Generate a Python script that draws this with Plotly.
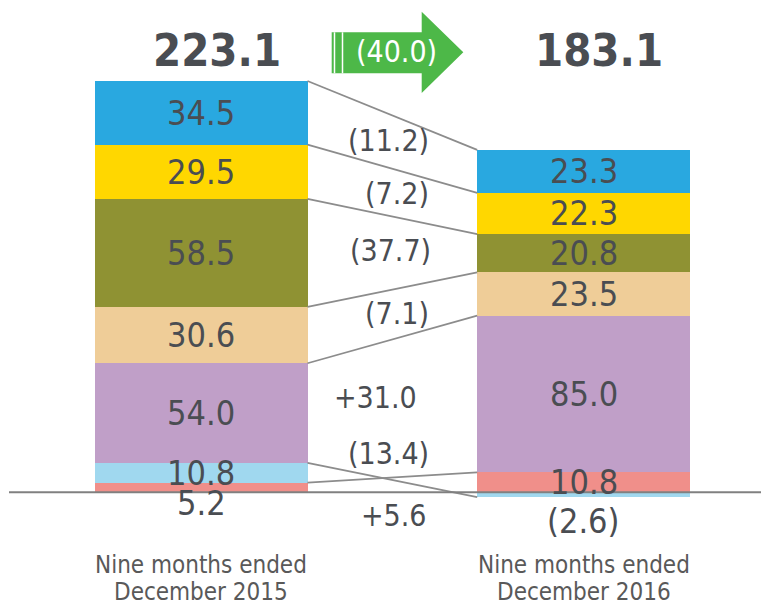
import plotly.graph_objects as go

# ---------------- data ----------------
periods = [["Nine months ended", "December 2015"], ["Nine months ended", "December 2016"]]
segments = ["Segment 1", "Segment 2", "Segment 3", "Segment 4", "Segment 5", "Segment 6", "Segment 7"]
# stacking order from the baseline upwards
values_2015 = [5.2, 10.8, 54.0, 30.6, 58.5, 29.5, 34.5]
values_2016 = [10.8, -2.6, 85.0, 23.5, 20.8, 22.3, 23.3]
colors = ["#F08F8A", "#A0D8EF", "#C09FC8", "#EFCD98", "#8F9233", "#FFD700", "#29A8E0"]
totals = [223.1, 183.1]
total_change_label = "(40.0)"

# ---------------- geometry helpers ----------------
OFF = 8  # page body margin
W, H = 769 - OFF, 605 - OFF
PX_PER_X = 382.7
X0_PX = 201.0 - OFF
BASE_PX = 492.3 - OFF
PX_PER_Y = 1.8436
XR = [-X0_PX / PX_PER_X, (W - X0_PX) / PX_PER_X]
YR = [-(H - BASE_PX) / PX_PER_Y, BASE_PX / PX_PER_Y]
BAR_W = 213 / PX_PER_X

def xd(px):
    return (px - OFF - X0_PX) / PX_PER_X

def yd(py):
    return (BASE_PX - (py - OFF)) / PX_PER_Y

def xp(px):
    return (px - OFF) / W

def yp(py):
    return 1 - (py - OFF) / H

FONT = "DejaVu Sans Condensed, DejaVu Sans, sans-serif"
TXT = "#4A4D52"

fig = go.Figure()
xs = [0, 1]
for name, v15, v16, c in zip(segments, values_2015, values_2016, colors):
    fig.add_trace(go.Bar(x=xs, y=[v15, v16], name=name, marker=dict(color=c, line=dict(width=0)),
                         width=BAR_W, showlegend=False, hoverinfo="y"))

# stacked extents (relative stacking)
def extents(vals):
    pos, neg = 0.0, 0.0
    out = []
    for v in vals:
        if v >= 0:
            out.append((pos, pos + v))
            pos += v
        else:
            out.append((neg + v, neg))
            neg += v
    return out

ext15 = extents(values_2015)
ext16 = extents(values_2016)

def outer(v, e):
    return e[1] if v >= 0 else e[0]

# connector lines
for v15, v16, e15, e16 in zip(values_2015, values_2016, ext15, ext16):
    fig.add_trace(go.Scatter(x=[BAR_W / 2, 1 - BAR_W / 2], y=[outer(v15, e15), outer(v16, e16)],
                             mode="lines", line=dict(color="#8C8C8C", width=1.8),
                             showlegend=False, hoverinfo="skip"))

annotations = []

# segment value labels
OUTSIDE_Y = {0: -5.8, 1: -15.3}
def fmt(v):
    return f"({abs(v):.1f})" if v < 0 else f"{v:.1f}"

for bi, (vals, ext) in enumerate([(values_2015, ext15), (values_2016, ext16)]):
    for v, e in zip(vals, ext):
        if abs(v) < 8:
            y = OUTSIDE_Y[bi]
        else:
            y = (e[0] + e[1]) / 2
        annotations.append(dict(x=bi, y=y, text=fmt(v), showarrow=False,
                                font=dict(family=FONT, size=34, color=TXT),
                                xanchor="center", yanchor="middle"))

# change labels between bars (top segment first)
CHANGE_POS = [(431, 140), (431, 193), (433, 250), (431, 313), (419, 397), (431, 453), (429, 515)]
changes = [round(b - a, 1) for a, b in zip(values_2015, values_2016)][::-1]
for ch, (px, py) in zip(changes, CHANGE_POS):
    t = f"({abs(ch):.1f})" if ch < 0 else f"+{ch:.1f}"
    annotations.append(dict(x=xd(px), y=yd(py), text=t, showarrow=False,
                            font=dict(family=FONT, size=30, color=TXT),
                            xanchor="right", yanchor="middle"))

# totals
for bi, tot in enumerate(totals):
    annotations.append(dict(x=bi + (216.5 - 201) / PX_PER_X, y=yd(50), text=f"<b>{tot:.1f}</b>",
                            showarrow=False, font=dict(family=FONT, size=45, color=TXT),
                            xanchor="center", yanchor="middle"))

# category labels (two lines each)
for bi, lines in enumerate(periods):
    for li, (line, py) in enumerate(zip(lines, (565, 592))):
        annotations.append(dict(x=bi, y=yd(py), text=line, showarrow=False,
                                font=dict(family=FONT, size=24, color="#595959"),
                                xanchor="center", yanchor="middle", align="center"))

# arrow text
annotations.append(dict(x=xp(396), y=yp(52), xref="paper", yref="paper", text=total_change_label,
                        showarrow=False, font=dict(family=FONT, size=30, color="white"),
                        xanchor="center", yanchor="middle"))

shapes = []
# arrow
pts = [(331.7, 32.3), (421.7, 32.3), (421.7, 11.7), (463.3, 52.3), (421.7, 93), (421.7, 73.3), (331.7, 73.3)]
path = "M " + " L ".join(f"{xp(a):.5f},{yp(b):.5f}" for a, b in pts) + " Z"
shapes.append(dict(type="path", path=path, xref="paper", yref="paper",
                   fillcolor="#4DB848", line=dict(width=0), layer="above"))
for sx in (334.5, 342.5):
    shapes.append(dict(type="line", xref="paper", yref="paper", x0=xp(sx), x1=xp(sx),
                       y0=yp(32.3), y1=yp(73.3), line=dict(color="white", width=1.5), layer="above"))
# baseline
shapes.append(dict(type="line", xref="paper", yref="y", x0=xp(9), x1=1, y0=0, y1=0,
                   line=dict(color="#808080", width=2), layer="above"))

fig.update_layout(
    width=W, height=H, margin=dict(l=0, r=0, t=0, b=0),
    paper_bgcolor="white", plot_bgcolor="white",
    barmode="relative", bargap=0,
    xaxis=dict(range=XR, visible=False, fixedrange=True),
    yaxis=dict(range=YR, visible=False, fixedrange=True),
    annotations=annotations, shapes=shapes,
)
fig.write_html("out.html")
